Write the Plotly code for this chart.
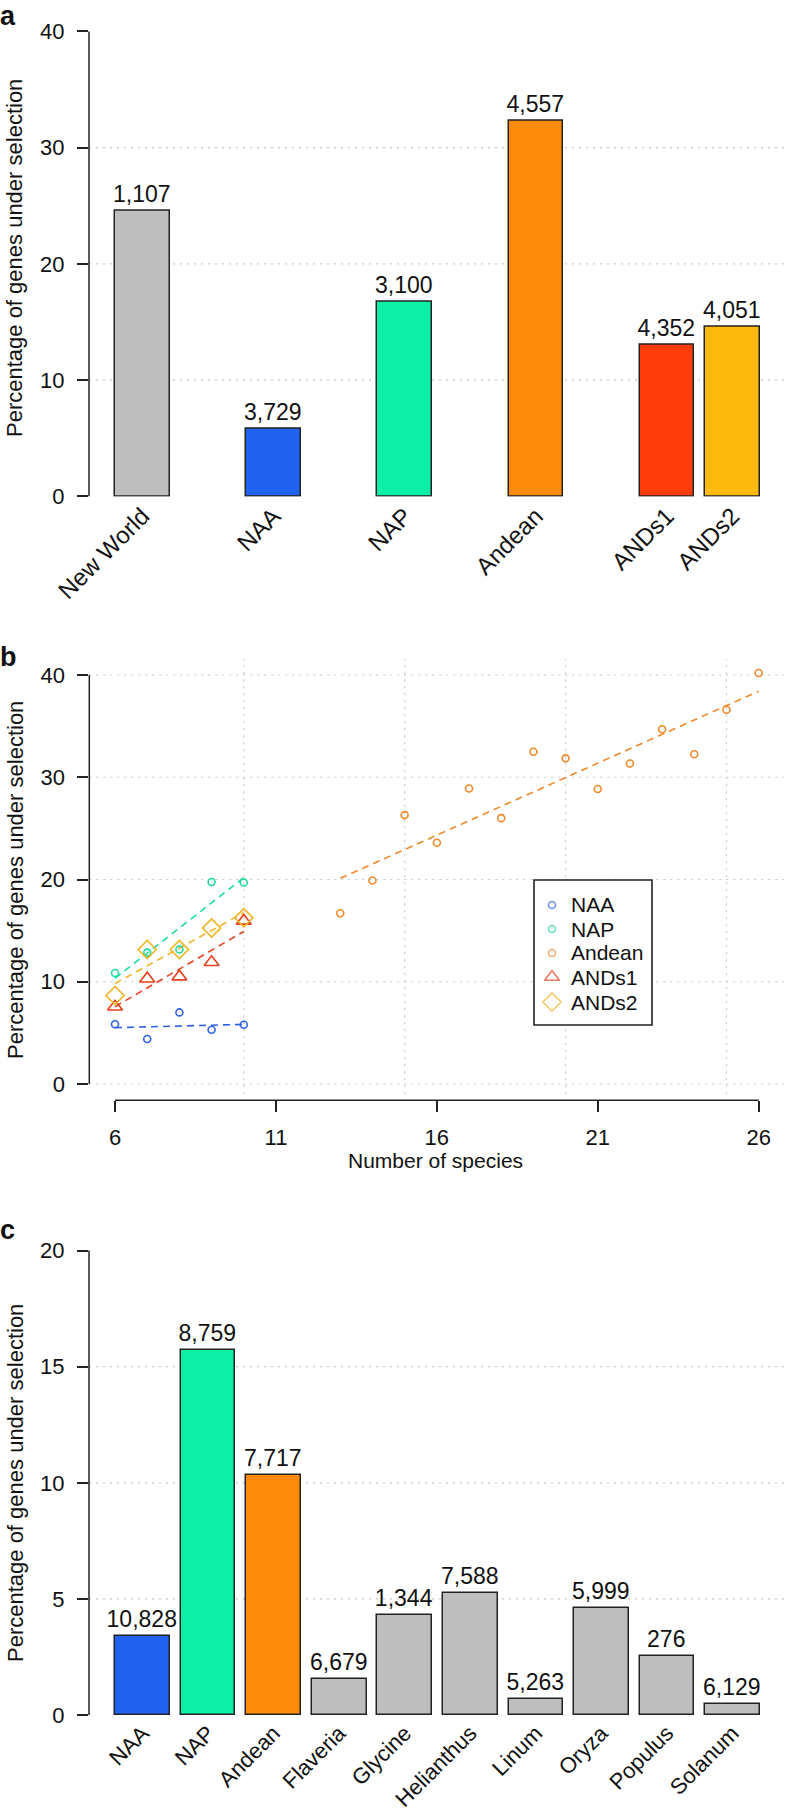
import numpy as np
import plotly.graph_objects as go

W, H = 786, 1812
FONT = "Liberation Sans, Arial, Helvetica, sans-serif"

# ---------------- data ----------------
# Panel a
cats_a = ["New World", "NAA", "NAP", "Andean", "ANDs1", "ANDs2"]
vals_a = [24.6, 5.84, 16.7, 32.3, 13.05, 14.6]
counts_a = ["1,107", "3,729", "3,100", "4,557", "4,352", "4,051"]

# Panel b
naa_x = [6, 7, 8, 9, 10]
naa_y = [5.85, 4.4, 7.0, 5.3, 5.8]
nap_x = [6, 7, 8, 9, 10]
nap_y = [10.85, 12.85, 13.15, 19.75, 19.7]
andean_x = [13, 14, 15, 16, 17, 18, 19, 20, 21, 22, 23, 24, 25, 26]
andean_y = [16.7, 19.9, 26.3, 23.6, 28.9, 26.0, 32.5, 31.85, 28.85, 31.35, 34.7, 32.25, 36.6, 40.2]
ands1_x = [6, 7, 8, 9, 10]
ands1_y = [7.55, 10.3, 10.5, 11.9, 15.95]
ands2_x = [6, 7, 8, 9, 10]
ands2_y = [8.65, 13.15, 13.15, 15.25, 16.25]

# Panel c
cats_c = ["NAA", "NAP", "Andean", "Flaveria", "Glycine", "Helianthus", "Linum", "Oryza", "Populus", "Solanum"]
vals_c = [3.4, 15.7, 10.35, 1.54, 4.3, 5.25, 0.7, 4.62, 2.54, 0.47]
counts_c = ["10,828", "8,759", "7,717", "6,679", "1,344", "7,588", "5,263", "5,999", "276", "6,129"]

# ---------------- styles ----------------
C_GRAY = "#BEBEBE"
C_NAA = "#2262F0"
C_NAP = "#0CEFA6"
C_AND = "#FF8A0C"
C_A1 = "#FF3D0A"
C_A2 = "#FFBA10"
colors_a = [C_GRAY, C_NAA, C_NAP, C_AND, C_A1, C_A2]
colors_c = [C_NAA, C_NAP, C_AND] + [C_GRAY] * 7
slots_a = [0, 2, 4, 6, 8, 9]
slots_c = list(range(10))

PC_NAA = "#2F62E6"
PC_NAP = "#1FD9A0"
PC_AND = "#F0892A"
PC_A1 = "#E8421E"
PC_A2 = "#F2B526"

AX = "#222222"
GRID = "#C8C8C8"
TXT = "#111111"
TICKF = dict(family=FONT, size=22, color=TXT)
CATF_A = dict(family=FONT, size=24, color=TXT)
CATF_C = dict(family=FONT, size=22, color=TXT)
VALF = dict(family=FONT, size=23, color=TXT)


def xd(px0, px1):
    return [px0 / W, px1 / W]


def yd(px_zero, ppu, lo, hi):
    bottom = px_zero - lo * ppu
    top = px_zero - hi * ppu
    return [1 - bottom / H, 1 - top / H]


fig = go.Figure()

# ---------- Panel a ----------
fig.add_trace(go.Bar(
    x=slots_a, y=vals_a, width=0.834, marker=dict(color=colors_a, line=dict(color=AX, width=1.5)),
    text=counts_a, textposition="outside", cliponaxis=False, constraintext="none",
    outsidetextfont=VALF, xaxis="x", yaxis="y", showlegend=False, hoverinfo="skip"))

# ---------- Panel b ----------
groups = [
    ("NAA", naa_x, naa_y, PC_NAA, "circle-open", 7),
    ("NAP", nap_x, nap_y, PC_NAP, "circle-open", 7),
    ("Andean", andean_x, andean_y, PC_AND, "circle-open", 7),
    ("ANDs1", ands1_x, ands1_y, PC_A1, "triangle-up-open", 13),
    ("ANDs2", ands2_x, ands2_y, PC_A2, "diamond-open", 14),
]
for name, gx, gy, col, sym, sz in groups:
    k, b = np.polyfit(gx, gy, 1)
    xs = np.array([min(gx), max(gx)])
    fig.add_trace(go.Scatter(
        x=xs, y=k * xs + b, mode="lines", line=dict(color=col, width=1.6, dash="7px,5px"),
        xaxis="x2", yaxis="y2", showlegend=False, hoverinfo="skip"))
for name, gx, gy, col, sym, sz in groups:
    fig.add_trace(go.Scatter(
        x=gx, y=gy, mode="markers", name=name, showlegend=False,
        marker=dict(symbol=sym, size=sz, color=col, line=dict(color=col, width=1.6)),
        xaxis="x2", yaxis="y2", cliponaxis=False))

# legend key (drawn on a transparent pixel overlay axis, R-style legend box)
leg_px_x = 552
leg_px_y = [905, 929, 953, 977, 1002]
fig.add_trace(go.Scatter(
    x=[leg_px_x] * 5, y=leg_px_y, mode="markers", showlegend=False, hoverinfo="skip",
    marker=dict(symbol=[g[4] for g in groups], size=[g[5] for g in groups],
                color=[g[3] for g in groups],
                line=dict(color=[g[3] for g in groups], width=1.6)),
    xaxis="x4", yaxis="y4", cliponaxis=False))

# ---------- Panel c ----------
fig.add_trace(go.Bar(
    x=slots_c, y=vals_c, width=0.834, marker=dict(color=colors_c, line=dict(color=AX, width=1.5)),
    text=counts_c, textposition="outside", cliponaxis=False, constraintext="none",
    outsidetextfont=VALF, xaxis="x3", yaxis="y3", showlegend=False, hoverinfo="skip"))

common_y = dict(ticks="outside", ticklen=11, tickwidth=1.5, tickcolor=AX, showline=False,
                showgrid=False, zeroline=False, tickfont=TICKF, ticklabelstandoff=8,
                automargin=False)
common_xcat = dict(tickangle=-45, ticks="", showline=False, showgrid=False, zeroline=False,
                   automargin=False, ticklabelstandoff=0)

a_y_lo, a_y_hi = 0, 41.6
c_y_lo, c_y_hi = 0, 20.8
fig.update_layout(
    xaxis=dict(domain=xd(89, 785), range=[-0.817, 9.80], tickvals=slots_a, ticktext=cats_a,
               anchor="y", tickfont=CATF_A, **common_xcat),
    yaxis=dict(domain=yd(496.4, 11.625, a_y_lo, a_y_hi), range=[a_y_lo, a_y_hi],
               tickvals=[0, 10, 20, 30, 40], anchor="x", **common_y),
    xaxis2=dict(domain=xd(89.3, 784.4), range=[5.2, 26.8], tickvals=[6, 11, 16, 21, 26],
                ticks="outside", ticklen=11, tickwidth=1.5, tickcolor=AX, showline=False,
                showgrid=False, zeroline=False, tickfont=TICKF, anchor="y2",
                ticklabelstandoff=6, automargin=False),
    yaxis2=dict(domain=yd(1084, 10.225, -1.6, 41.6), range=[-1.6, 41.6],
                tickvals=[0, 10, 20, 30, 40], anchor="x2", **common_y),
    xaxis3=dict(domain=xd(89, 785), range=[-0.817, 9.80], tickvals=slots_c, ticktext=cats_c,
                anchor="y3", tickfont=CATF_C, **common_xcat),
    yaxis3=dict(domain=yd(1715, 23.22, c_y_lo, c_y_hi), range=[c_y_lo, c_y_hi],
                tickvals=[0, 5, 10, 15, 20], anchor="x3", **common_y),
    xaxis4=dict(domain=[0, 1], range=[0, W], visible=False, fixedrange=True),
    yaxis4=dict(domain=[0, 1], range=[H, 0], visible=False, fixedrange=True),
)

shapes = []
dot = "2px,5px"
for v in [10, 20, 30]:
    shapes.append(dict(type="line", xref="x domain", yref="y", x0=0, x1=1, y0=v, y1=v,
                       line=dict(color=GRID, width=1.2, dash=dot), layer="below"))
for v in [0, 10, 20, 30, 40]:
    shapes.append(dict(type="line", xref="x2 domain", yref="y2", x0=0, x1=1, y0=v, y1=v,
                       line=dict(color=GRID, width=1.2, dash=dot), layer="below"))
for v in [10, 15, 20, 25]:
    shapes.append(dict(type="line", xref="x2", yref="y2", x0=v, x1=v, y0=-1.0, y1=43.2,
                       line=dict(color=GRID, width=1.2, dash=dot), layer="below"))
for v in [5, 10, 15]:
    shapes.append(dict(type="line", xref="x3 domain", yref="y3", x0=0, x1=1, y0=v, y1=v,
                       line=dict(color=GRID, width=1.2, dash=dot), layer="below"))
shapes.append(dict(type="line", xref="x domain", yref="y", x0=0, x1=0, y0=0, y1=40,
                   line=dict(color=AX, width=1.5)))
shapes.append(dict(type="line", xref="x2 domain", yref="y2", x0=0, x1=0, y0=0, y1=40,
                   line=dict(color=AX, width=1.5)))
shapes.append(dict(type="line", xref="x2", yref="y2 domain", x0=6, x1=26, y0=0, y1=0,
                   line=dict(color=AX, width=1.5)))
shapes.append(dict(type="line", xref="x3 domain", yref="y3", x0=0, x1=0, y0=0, y1=20,
                   line=dict(color=AX, width=1.5)))
# legend box
shapes.append(dict(type="rect", xref="x4", yref="y4", x0=534, x1=652, y0=880, y1=1025,
                   line=dict(color=AX, width=1.6), fillcolor="white", layer="below"))

ann = []
def label(txt, px, py, size, bold=False, angle=0, xanchor="center", yanchor="middle"):
    ann.append(dict(text=("<b>%s</b>" % txt) if bold else txt, x=px / W, y=1 - py / H,
                    xref="paper", yref="paper", showarrow=False, textangle=angle,
                    xanchor=xanchor, yanchor=yanchor, borderpad=0,
                    font=dict(family=FONT, size=size, color=TXT)))

label("a", -1, 0, 27, bold=True, xanchor="left", yanchor="top")
label("b", -1, 641, 27, bold=True, xanchor="left", yanchor="top")
label("c", -1, 1214, 27, bold=True, xanchor="left", yanchor="top")
label("Percentage of genes under selection", 15, 258, 22, angle=-90)
label("Percentage of genes under selection", 15, 880, 22, angle=-90)
label("Percentage of genes under selection", 15, 1483, 22, angle=-90)
label("Number of species", 436, 1160, 21)
for g, py in zip(groups, leg_px_y):
    label(g[0], 570, py, 21, xanchor="left")

fig.update_layout(
    width=W, height=H, margin=dict(l=0, r=0, t=0, b=0, autoexpand=False),
    paper_bgcolor="white", plot_bgcolor="rgba(0,0,0,0)",
    shapes=shapes, annotations=ann, bargap=0, showlegend=False,
    font=dict(family=FONT, color=TXT),
)

fig.write_html("out.html", config={"displayModeBar": False},
               post_script="document.body.style.margin='0px';")
